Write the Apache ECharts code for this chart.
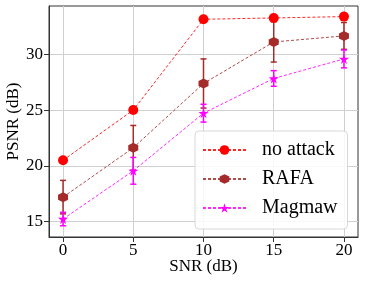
<!DOCTYPE html>
<html><head><meta charset="utf-8">
<script src="https://cdn.jsdelivr.net/npm/echarts@6/dist/echarts.min.js"></script>
<style>html,body{margin:0;padding:0;background:#fff}#c{width:365px;height:284px}</style>
</head><body><div id="c"></div>
<script>
const snr = [0, 5, 10, 15, 20];
const noAttack = [20.5, 25.0, 33.13, 33.25, 33.37];
const rafa = [17.2, 21.62, 27.38, 31.1, 31.64];
const rafaErr = [1.5, 2.0, 2.2, 1.8, 1.2];
const magmaw = [15.24, 19.56, 24.72, 27.83, 29.58];
const magmawErr = [0.6, 1.2, 0.8, 0.7, 0.8];
const xTicks = [0, 5, 10, 15, 20];
const yTicks = [15, 20, 25, 30];

const FONT = 'Liberation Serif';
const chart = echarts.init(document.getElementById('c'), null, {renderer: 'canvas'});

function pairs(ys) { return snr.map((x, i) => [x, ys[i]]); }
function errData(ys, es) { return snr.map((x, i) => [x, ys[i] - es[i], ys[i] + es[i]]); }
function errSeries(name, ys, es, color) {
  return {
    type: 'custom', name: name + '_err', z: 2, silent: true,
    data: errData(ys, es),
    encode: {x: 0, y: [1, 2]},
    renderItem: function (params, api) {
      const x = api.value(0);
      const lo = api.coord([x, api.value(1)]);
      const hi = api.coord([x, api.value(2)]);
      const w = 3;
      const st = {stroke: color, lineWidth: 1.5};
      return {type: 'group', children: [
        {type: 'line', shape: {x1: lo[0], y1: lo[1], x2: hi[0], y2: hi[1]}, style: st},
        {type: 'line', shape: {x1: lo[0] - w, y1: lo[1], x2: lo[0] + w, y2: lo[1]}, style: st},
        {type: 'line', shape: {x1: hi[0] - w, y1: hi[1], x2: hi[0] + w, y2: hi[1]}, style: st}
      ]};
    }
  };
}
function lineSeries(name, ys, color, symbol, size, z) {
  return {
    type: 'line', name: name, data: pairs(ys), z: z,
    symbol: symbol, symbolSize: size, showAllSymbol: true,
    itemStyle: {color: color, opacity: 1},
    lineStyle: {color: color, width: 1, type: [3, 2], opacity: 0.85},
    emphasis: {disabled: true}, animation: false
  };
}

const axisLineStyle = {show: true, onZero: false, lineStyle: {color: '#333', width: 1}};
chart.setOption({
  animation: false,
  grid: {left: 49, right: 7, top: 6, bottom: 47, show: true, borderColor: '#333', borderWidth: 1,
         containLabel: false, outerBoundsMode: 'none'},
  xAxis: {
    type: 'value', min: -1, max: 21,
    name: 'SNR (dB)', nameLocation: 'middle', nameGap: 21, nameMoveOverlap: false,
    nameTextStyle: {fontFamily: FONT, fontSize: 17, color: '#000', verticalAlign: 'top'},
    axisLine: axisLineStyle,
    axisTick: {show: true, customValues: xTicks, length: 5, inside: false, lineStyle: {color: '#333'}},
    axisLabel: {customValues: xTicks, fontFamily: FONT, fontSize: 17, color: '#000', margin: 5},
    splitLine: {show: true, lineStyle: {color: '#d0d0d0', width: 1}}
  },
  yAxis: {
    type: 'value', min: 13.63, max: 34.32,
    name: 'PSNR (dB)', nameLocation: 'middle', nameGap: 27, nameRotate: 90, nameMoveOverlap: false,
    nameTextStyle: {fontFamily: FONT, fontSize: 17, color: '#000', verticalAlign: 'bottom'},
    axisLine: axisLineStyle,
    axisTick: {show: true, customValues: yTicks, length: 5, lineStyle: {color: '#333'}},
    axisLabel: {customValues: yTicks, fontFamily: FONT, fontSize: 17, color: '#000', margin: 6},
    splitLine: {show: true, lineStyle: {color: '#d0d0d0', width: 1}}
  },
  legend: {
    data: ['no attack', 'RAFA', 'Magmaw'],
    orient: 'vertical', left: 195, top: 131,
    width: 153,
    padding: [9, 10, 11, 7],
    itemWidth: 43, itemHeight: 12, itemGap: 9,
    backgroundColor: 'rgba(255,255,255,0.85)',
    borderColor: '#d8d8d8', borderWidth: 1, borderRadius: 4,
    textStyle: {fontFamily: FONT, fontSize: 20, color: '#000', padding: [0, 0, 0, 11]}
  },
  series: [
    errSeries('RAFA', rafa, rafaErr, '#a52a2a'),
    errSeries('Magmaw', magmaw, magmawErr, '#ff00ff'),
    lineSeries('no attack', noAttack, '#ff0000', 'circle', 10, 5),
    lineSeries('RAFA', rafa, '#a52a2a', 'path://M50,0 L93,25 L93,75 L50,100 L7,75 L7,25 Z', 10, 4),
    lineSeries('Magmaw', magmaw, '#ff00ff', 'path://M50,0 L61,35 L98,35 L68,57 L79,91 L50,70 L21,91 L32,57 L2,35 L39,35 Z', 10, 3)
  ]
});
</script></body></html>
